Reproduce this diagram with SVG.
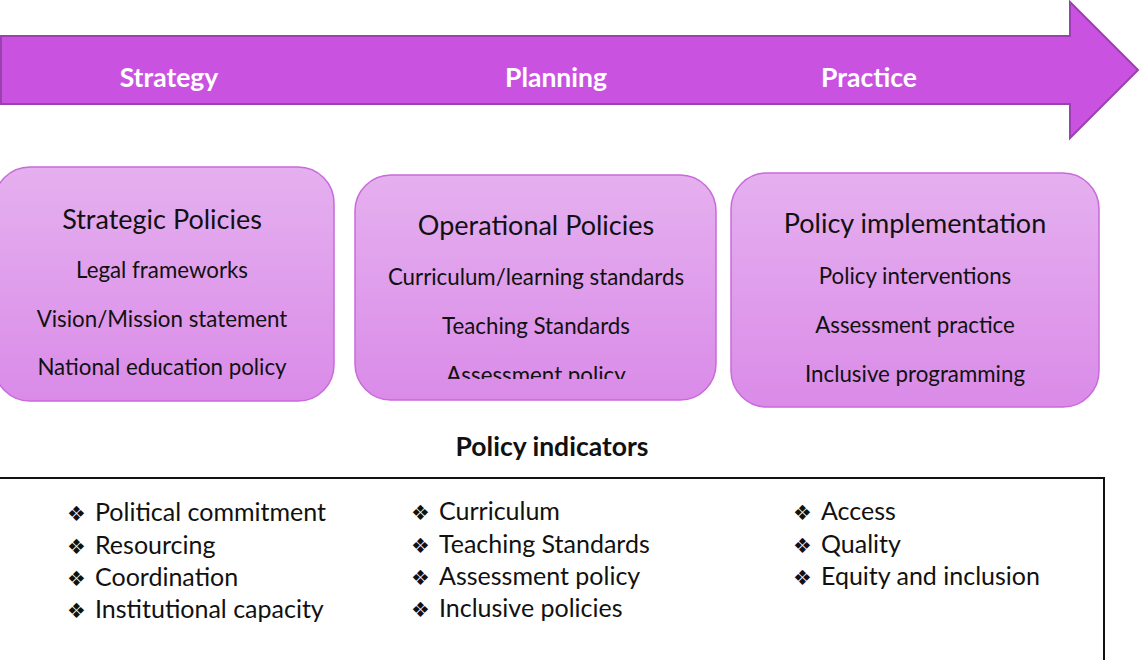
<svg xmlns="http://www.w3.org/2000/svg" width="1141" height="660" viewBox="0 0 1141 660">
<style>
.hdr{font-family:Lato,"Liberation Sans",sans-serif;font-weight:bold;font-size:26.5px;fill:#ffffff;text-anchor:middle}
.ttl{font-family:Lato,"Liberation Sans",sans-serif;font-size:27px;fill:#111;text-anchor:middle}
.itm{font-family:Lato,"Liberation Sans",sans-serif;font-size:22.3px;fill:#111;text-anchor:middle}
.bul{font-family:Lato,"Liberation Sans",sans-serif;font-size:25px;fill:#111}
.dia{font-family:"DejaVu Sans",sans-serif;font-size:21px;fill:#111}
.box{fill:url(#g);stroke:#C86ADB;stroke-width:1.5}
</style>
<defs>
<linearGradient id="g" x1="0" y1="0" x2="0" y2="1">
<stop offset="0" stop-color="#E5B0EF"/>
<stop offset="1" stop-color="#DA8BE8"/>
</linearGradient>
<clipPath id="c2"><rect x="355" y="175" width="362" height="204"/></clipPath>
</defs>
<g id="arrow">
<polygon points="1,36 1070,36 1070,2 1138,70 1070,138 1070,104 1,104" fill="#C953E0" stroke="#9A40B0" stroke-width="2"/>
<text class="hdr" x="169" y="87">Strategy</text>
<text class="hdr" x="556" y="87">Planning</text>
<text class="hdr" x="869" y="87">Practice</text>
</g>
<g id="strategic">
<rect class="box" x="-6" y="167" width="340" height="234" rx="36"/>
<text class="ttl" x="162" y="229">Strategic Policies</text>
<text class="itm" x="162" y="278">Legal frameworks</text>
<text class="itm" x="162" y="327">Vision/Mission statement</text>
<text class="itm" x="162" y="375">National education policy</text>
</g>
<g id="operational">
<rect class="box" x="355" y="175" width="361" height="225" rx="36"/>
<text class="ttl" x="536" y="235">Operational Policies</text>
<text class="itm" x="536" y="285">Curriculum/learning standards</text>
<text class="itm" x="536" y="334">Teaching Standards</text>
<text class="itm" x="536" y="383" clip-path="url(#c2)">Assessment policy</text>
</g>
<g id="implementation">
<rect class="box" x="731" y="173" width="368" height="234" rx="36"/>
<text class="ttl" x="915" y="233">Policy implementation</text>
<text class="itm" x="915" y="284">Policy interventions</text>
<text class="itm" x="915" y="333">Assessment practice</text>
<text class="itm" x="915" y="382">Inclusive programming</text>
</g>
<g id="indicators">
<text x="552" y="456" font-family="Lato,'Liberation Sans',sans-serif" font-weight="bold" font-size="26.5" fill="#111" text-anchor="middle">Policy indicators</text>
<rect x="-2" y="478" width="1106" height="190" fill="#fff" stroke="#111" stroke-width="2"/>
<text class="dia" x="67" y="521">❖</text><text class="bul" x="95" y="521">Political commitment</text>
<text class="dia" x="67" y="554">❖</text><text class="bul" x="95" y="554">Resourcing</text>
<text class="dia" x="67" y="586">❖</text><text class="bul" x="95" y="586">Coordination</text>
<text class="dia" x="67" y="618">❖</text><text class="bul" x="95" y="618">Institutional capacity</text>
<text class="dia" x="411" y="520">❖</text><text class="bul" x="439" y="520">Curriculum</text>
<text class="dia" x="411" y="553">❖</text><text class="bul" x="439" y="553">Teaching Standards</text>
<text class="dia" x="411" y="585">❖</text><text class="bul" x="439" y="585">Assessment policy</text>
<text class="dia" x="411" y="617">❖</text><text class="bul" x="439" y="617">Inclusive policies</text>
<text class="dia" x="793" y="520">❖</text><text class="bul" x="821" y="520">Access</text>
<text class="dia" x="793" y="553">❖</text><text class="bul" x="821" y="553">Quality</text>
<text class="dia" x="793" y="585">❖</text><text class="bul" x="821" y="585">Equity and inclusion</text>
</g>
</svg>
